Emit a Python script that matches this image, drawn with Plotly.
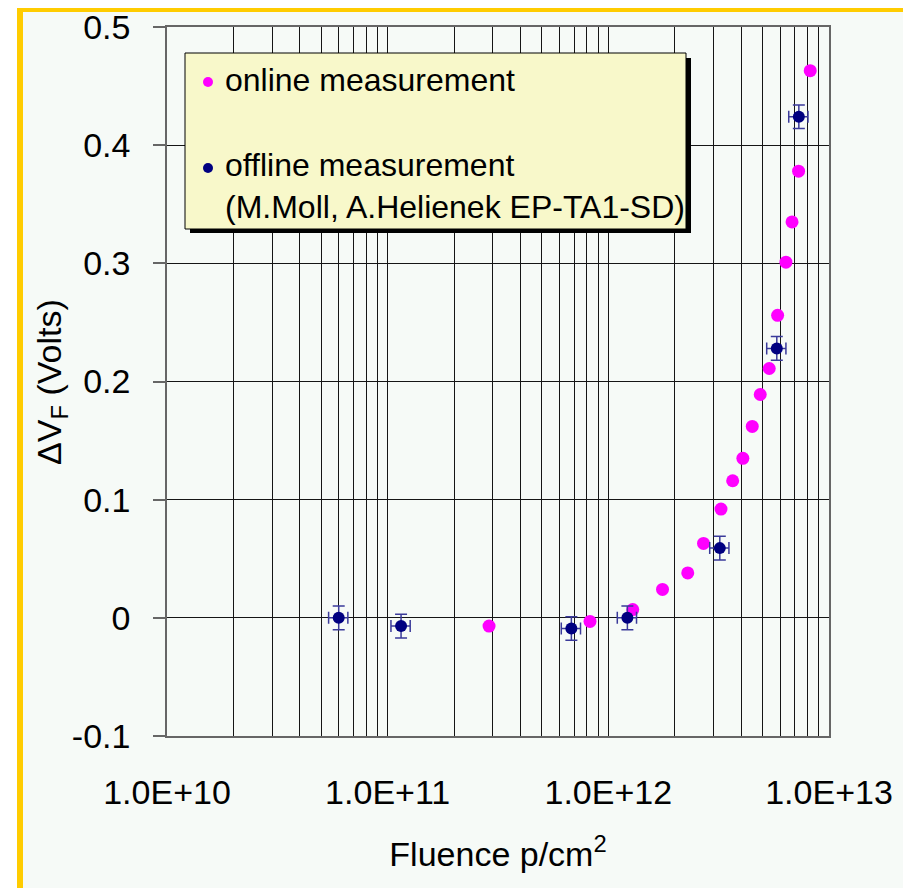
import plotly.graph_objects as go

# ---------------- data ----------------
online_fluence = [2.88e11, 8.26e11, 1.29e12, 1.76e12, 2.29e12, 2.70e12, 3.24e12,
                  3.66e12, 4.07e12, 4.49e12, 4.88e12, 5.36e12, 5.85e12, 6.38e12,
                  6.80e12, 7.28e12, 8.22e12]
online_dvf = [-0.007, -0.003, 0.007, 0.024, 0.038, 0.063, 0.092,
              0.116, 0.135, 0.162, 0.189, 0.211, 0.256, 0.301,
              0.335, 0.378, 0.463]

offline_fluence = [6.0e10, 1.15e11, 6.8e11, 1.22e12, 3.2e12, 5.8e12, 7.3e12]
offline_dvf = [0.000, -0.007, -0.009, 0.000, 0.059, 0.228, 0.424]
offline_dvf_err = [0.01, 0.01, 0.01, 0.01, 0.01, 0.01, 0.01]
offline_fluence_err_pct = 10

x_decades = [10, 11, 12, 13]
x_tick_labels = ["1.0E+10", "1.0E+11", "1.0E+12", "1.0E+13"]
y_ticks = [-0.1, 0, 0.1, 0.2, 0.3, 0.4, 0.5]
y_tick_labels = ["-0.1", "0", "0.1", "0.2", "0.3", "0.4", "0.5"]

legend_online = "online measurement"
legend_offline = "offline measurement"
legend_offline_ref = "(M.Moll, A.Helienek EP-TA1-SD)"

# ---------------- layout helpers ----------------
# The page body has an 8px margin; work in window pixels and shift.
OFF = 8
WIN_W, WIN_H = 911, 888
W, H = WIN_W - OFF, WIN_H - OFF
L, R, T, B = 167, 829, 27, 736          # plot area in window pixels
def px(x):
    return (x - L) / (R - L)
def py(y):
    return (B - y) / (B - T)

major_vals = [10.0 ** d for d in x_decades]
minor_vals = [m * 10.0 ** d for d in x_decades[:-1] for m in range(2, 10)]

FONT = "Liberation Sans, Arial, sans-serif"
BG = "#F6FAF7"
GRID = "#151515"

fig = go.Figure()
fig.add_trace(go.Scatter(
    x=online_fluence, y=online_dvf, mode="markers", name=legend_online,
    marker=dict(color="#FF00FF", size=13), showlegend=False))
fig.add_trace(go.Scatter(
    x=offline_fluence, y=offline_dvf, mode="markers", name=legend_offline,
    marker=dict(color="#000080", size=12),
    error_y=dict(type="data", array=offline_dvf_err, color="#3A3A9A", thickness=1.5, width=6),
    error_x=dict(type="percent", value=offline_fluence_err_pct, color="#3A3A9A", thickness=1.5, width=6),
    showlegend=False))

shapes = []
# white outside + yellow frame
shapes.append(dict(type="rect", xref="paper", yref="paper", x0=px(OFF), x1=px(17), y0=py(WIN_H), y1=py(OFF),
                   fillcolor="white", line=dict(width=0), layer="above"))
shapes.append(dict(type="rect", xref="paper", yref="paper", x0=px(17), x1=px(WIN_W), y0=py(12), y1=py(6),
                   fillcolor="#FFCC00", line=dict(width=0), layer="above"))
shapes.append(dict(type="rect", xref="paper", yref="paper", x0=px(17), x1=px(23), y0=py(WIN_H), y1=py(6),
                   fillcolor="#FFCC00", line=dict(width=0), layer="above"))
# legend box with shadow
shapes.append(dict(type="rect", xref="paper", yref="paper", x0=px(190), x1=px(691), y0=py(233), y1=py(58),
                   fillcolor="black", line=dict(width=0), layer="above"))
shapes.append(dict(type="rect", xref="paper", yref="paper", x0=px(185), x1=px(686), y0=py(229), y1=py(53),
                   fillcolor="#F8F8CA", line=dict(width=1, color="black"), layer="above"))
# legend dots
for (cx, cy, col) in [(208, 82, "#FF00FF"), (208, 168, "#000080")]:
    shapes.append(dict(type="circle", xref="paper", yref="paper",
                       xsizemode="pixel", ysizemode="pixel",
                       xanchor=px(cx), yanchor=py(cy), x0=-5, x1=5, y0=-5, y1=5,
                       fillcolor=col, line=dict(width=0), layer="above"))

annotations = []
for (txt, cy) in [(legend_online, 80), (legend_offline, 165), (legend_offline_ref, 207)]:
    annotations.append(dict(text=txt, xref="paper", yref="paper", x=px(223), y=py(cy),
                            xanchor="left", yanchor="middle", showarrow=False,
                            font=dict(family=FONT, size=32, color="black")))
# y-axis title
annotations.append(dict(text="ΔV<sub>F</sub> (Volts)", xref="paper", yref="paper",
                        x=px(51), y=py(382), xanchor="center", yanchor="middle",
                        textangle=-90, showarrow=False,
                        font=dict(family=FONT, size=34, color="black")))

fig.update_layout(
    width=W, height=H,
    margin=dict(l=L - OFF, r=WIN_W - R, t=T - OFF, b=WIN_H - B, autoexpand=False),
    paper_bgcolor=BG, plot_bgcolor=BG,
    font=dict(family=FONT, size=34, color="black"),
    shapes=shapes, annotations=annotations,
    showlegend=False,
    xaxis=dict(type="log", range=[10, 13], tickvals=major_vals, ticktext=x_tick_labels,
               automargin=False,
               showgrid=True, gridcolor=GRID, gridwidth=1.3,
               minor=dict(tickvals=minor_vals, showgrid=True, gridcolor=GRID, gridwidth=1.3, ticks=""),
               showline=True, linecolor="#666666", linewidth=1.5, mirror=True,
               ticks="", ticklabelstandoff=25, ticklabeloverflow="allow",
               tickfont=dict(size=34, family=FONT),
               title=dict(text="Fluence p/cm<sup>2</sup>", font=dict(size=34, family=FONT), standoff=33),
               zeroline=False),
    yaxis=dict(range=[-0.1, 0.5], tickvals=y_ticks, ticktext=y_tick_labels,
               automargin=False,
               showgrid=True, gridcolor=GRID, gridwidth=1.3,
               showline=True, linecolor="#666666", linewidth=1.5, mirror=True,
               ticks="outside", ticklen=12, tickcolor="#666666", tickwidth=1.5,
               ticklabelstandoff=16, ticklabeloverflow="allow",
               tickfont=dict(size=34, family=FONT),
               zeroline=False),
)

fig.write_html("out.html")
